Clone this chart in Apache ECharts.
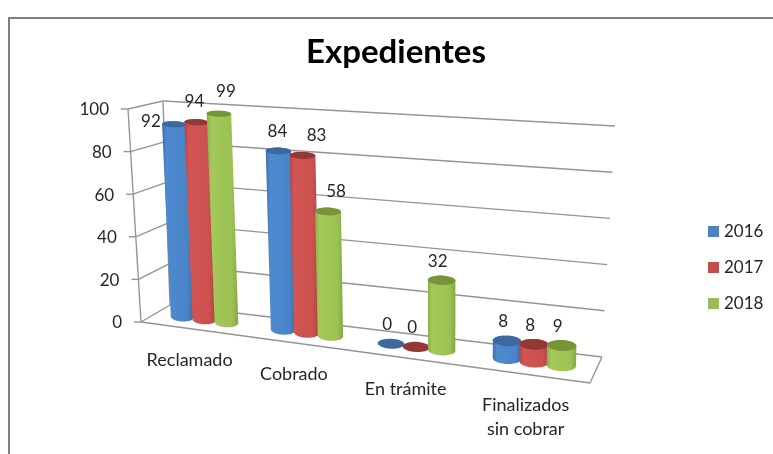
<!DOCTYPE html>
<html>
<head>
<meta charset="utf-8">
<style>
  html, body { margin: 0; padding: 0; background: #fff; }
  #main { width: 773px; height: 454px; }
</style>
<script src="https://cdn.jsdelivr.net/npm/echarts@6/dist/echarts.min.js"></script>
</head>
<body>
<div id="main"></div>
<script>
const categories = ["Reclamado", "Cobrado", "En trámite", "Finalizados\nsin cobrar"];
const years = ["2016", "2017", "2018"];
const values2016 = [92, 84, 0, 8];
const values2017 = [94, 83, 0, 8];
const values2018 = [99, 58, 32, 9];
const yTicks = [0, 20, 40, 60, 80, 100];

const FONT = "Lato";
const TEXT = "#262626";
const LINE = "#959595";

// the box in screen space: floor and top, front/back, left/right
const floorFL = [141, 322], floorFR = [590, 383], floorBL = [170, 305], floorBR = [602, 357];
const topFL = [128, 109], topFR = [587, 166], topBL = [163, 101], topBR = [615, 126];
const PERSPECTIVE = 1.15; // categories get wider towards the right

const palette = [
  { flat: "#4f81bd", top: "#3c6a9e", body: ["#3d70ac", "#4f8ad0", "#4a84c8", "#3a6aa3"] },
  { flat: "#c0504d", top: "#943836", body: ["#ad4744", "#d25552", "#cb504e", "#a64240"] },
  { flat: "#9bbb59", top: "#779439", body: ["#8bad48", "#a3c95b", "#9cc253", "#86a742"] },
];

// data labels were hand placed in the original, offset from the top of the cylinder
const labelOffset = {
  "0-0": [-23, -3], "1-0": [-2, -21], "2-0": [7, -22],
  "0-1": [-1, -19], "1-1": [14, -20], "2-1": [8, -20],
};

function mix(a, b, f) {
  return [a[0] + (b[0] - a[0]) * f, a[1] + (b[1] - a[1]) * f];
}

// s: 0..1 along categories, d: 0 front .. 1 back, h: 0..1 height
function project(s, d, h) {
  const t = s / (s + PERSPECTIVE * (1 - s));
  const bottom = mix(mix(floorFL, floorFR, t), mix(floorBL, floorBR, t), d);
  const top = mix(mix(topFL, topFR, t), mix(topBL, topBR, t), d);
  return mix(bottom, top, h);
}

// flat grid pixel -> s, h
function flat(params, pt) {
  const c = params.coordSys;
  return [(pt[0] - c.x) / c.width, 1 - (pt[1] - c.y) / c.height];
}

function line(a, b) {
  return {
    type: "line",
    shape: { x1: a[0], y1: a[1], x2: b[0], y2: b[1] },
    style: { stroke: LINE, lineWidth: 1.4 },
  };
}

// the ellipses sit almost level in the original, so only a little of the floor slope is kept
function ellipsePoints(pL, pR, ry, from, to) {
  const c = mix(pL, pR, 0.5);
  const pts = [];
  for (let i = 0; i <= 32; i++) {
    const a = from + ((to - from) * i) / 32;
    pts.push([
      c[0] + (Math.cos(a) * (pR[0] - pL[0])) / 2,
      c[1] + (Math.cos(a) * (pR[1] - pL[1])) * 0.15 + Math.sin(a) * ry,
    ]);
  }
  return pts;
}

function renderTick(params, api) {
  const h = flat(params, api.coord([0, api.value(1)]))[1];
  const front = project(0, 0, h);
  const back = project(0, 1, h);
  const right = project(1, 1, h);
  const children = [
    line(front, back),
    line(back, right),
    line([front[0] - 7, front[1]], front),
    {
      type: "text",
      style: {
        x: front[0] - 19, y: front[1] + 1, text: String(api.value(1)),
        align: "right", verticalAlign: "middle",
        font: "17px " + FONT, fill: TEXT,
      },
    },
  ];
  // outline only once
  if (params.dataIndex === 0) {
    children.push(line(project(0, 0, 0), project(0, 0, 1)));
    children.push(line(project(0, 1, 0), project(0, 1, 1)));
    children.push(line(project(0, 0, 0), project(1, 0, 0)));
    children.push(line(project(1, 0, 0), project(1, 1, 0)));
  }
  return { type: "group", children };
}

function renderCategory(params, api) {
  const s = flat(params, api.coord([api.value(0), 0]))[0];
  const p = project(s, 0, 0);
  return {
    type: "text",
    style: {
      x: p[0] - 1, y: p[1] + 19, text: categories[api.value(0)],
      align: "center", verticalAlign: "top", lineHeight: 24,
      font: "18px " + FONT, fill: TEXT,
    },
  };
}

function renderCylinder(params, api) {
  const j = params.seriesIndex - 2;
  const cat = api.value(0);
  const value = api.value(1);
  const base = api.coord([cat, 0]);
  const tip = api.coord([cat, value]);
  const band = api.size([1, 0])[0];
  const gap = 0.223, half = 0.118;

  const sL = flat(params, [base[0] + (j - 1) * gap * band - half * band, 0])[0];
  const sR = flat(params, [base[0] + (j - 1) * gap * band + half * band, 0])[0];
  const h = flat(params, tip)[1];

  const baseL = project(sL, 0.5, 0), baseR = project(sR, 0.5, 0);
  const topL = project(sL, 0.5, h), topR = project(sR, 0.5, h);
  const rx = (topR[0] - topL[0]) / 2;
  const ryTop = rx * (0.38 - 0.13 * h);
  const ryBase = rx * 0.38;

  const col = palette[j];
  const children = [];
  if (value > 0) {
    children.push({
      type: "polygon",
      shape: {
        points: ellipsePoints(topL, topR, ryTop, 0, -Math.PI).concat(
          ellipsePoints(baseL, baseR, ryBase, Math.PI, 0)
        ),
      },
      style: {
        fill: new echarts.graphic.LinearGradient(0, 0, 1, 0, [
          { offset: 0, color: col.body[0] },
          { offset: 0.15, color: col.body[1] },
          { offset: 0.8, color: col.body[2] },
          { offset: 1, color: col.body[3] },
        ]),
      },
    });
  }
  children.push({
    type: "polygon",
    shape: { points: ellipsePoints(topL, topR, ryTop, 0, Math.PI * 2) },
    style: { fill: col.top },
  });

  const off = labelOffset[j + "-" + cat] || [-4, -19];
  const c = mix(topL, topR, 0.5);
  children.push({
    type: "text",
    style: {
      x: c[0] + off[0], y: c[1] + off[1], text: String(value),
      align: "center", verticalAlign: "middle",
      font: "17px " + FONT, fill: TEXT,
    },
  });
  return { type: "group", children };
}

function cylinderSeries(name, values) {
  return {
    name,
    type: "custom",
    renderItem: renderCylinder,
    encode: { x: 0, y: 1 },
    itemStyle: { color: palette[years.indexOf(name)].flat },
    data: values.map((v, i) => [i, v]),
  };
}

const chart = echarts.init(document.getElementById("main"));
chart.setOption({
  animation: false,
  backgroundColor: "#fff",
  title: {
    text: "Expedientes",
    left: 391,
    top: 31,
    textAlign: "center",
    textStyle: { fontFamily: FONT, fontSize: 33, fontWeight: "bold", color: "#000" },
  },
  legend: {
    data: years,
    orient: "vertical",
    left: 708,
    top: 223,
    padding: 0,
    icon: "rect",
    itemWidth: 11,
    itemHeight: 11,
    itemGap: 19,
    textStyle: { fontFamily: FONT, fontSize: 17, color: TEXT },
  },
  // flat grid, only used as the scale; project() tilts it
  grid: { left: 141, top: 109, width: 449, height: 213 },
  xAxis: { type: "category", data: categories, show: false },
  yAxis: { type: "value", min: 0, max: 100, interval: 20, show: false },
  graphic: [
    {
      type: "polyline",
      shape: { points: [[9, 460], [9, 18], [780, 18]] },
      style: { stroke: "#7f7f7f", lineWidth: 2, fill: null },
    },
  ],
  series: [
    {
      type: "custom",
      renderItem: renderTick,
      encode: { x: 0, y: 1 },
      data: yTicks.map((v) => [0, v]),
    },
    {
      type: "custom",
      renderItem: renderCategory,
      encode: { x: 0, y: 1 },
      data: categories.map((c, i) => [i, 0]),
    },
    cylinderSeries("2016", values2016),
    cylinderSeries("2017", values2017),
    cylinderSeries("2018", values2018),
  ],
});
</script>
</body>
</html>
